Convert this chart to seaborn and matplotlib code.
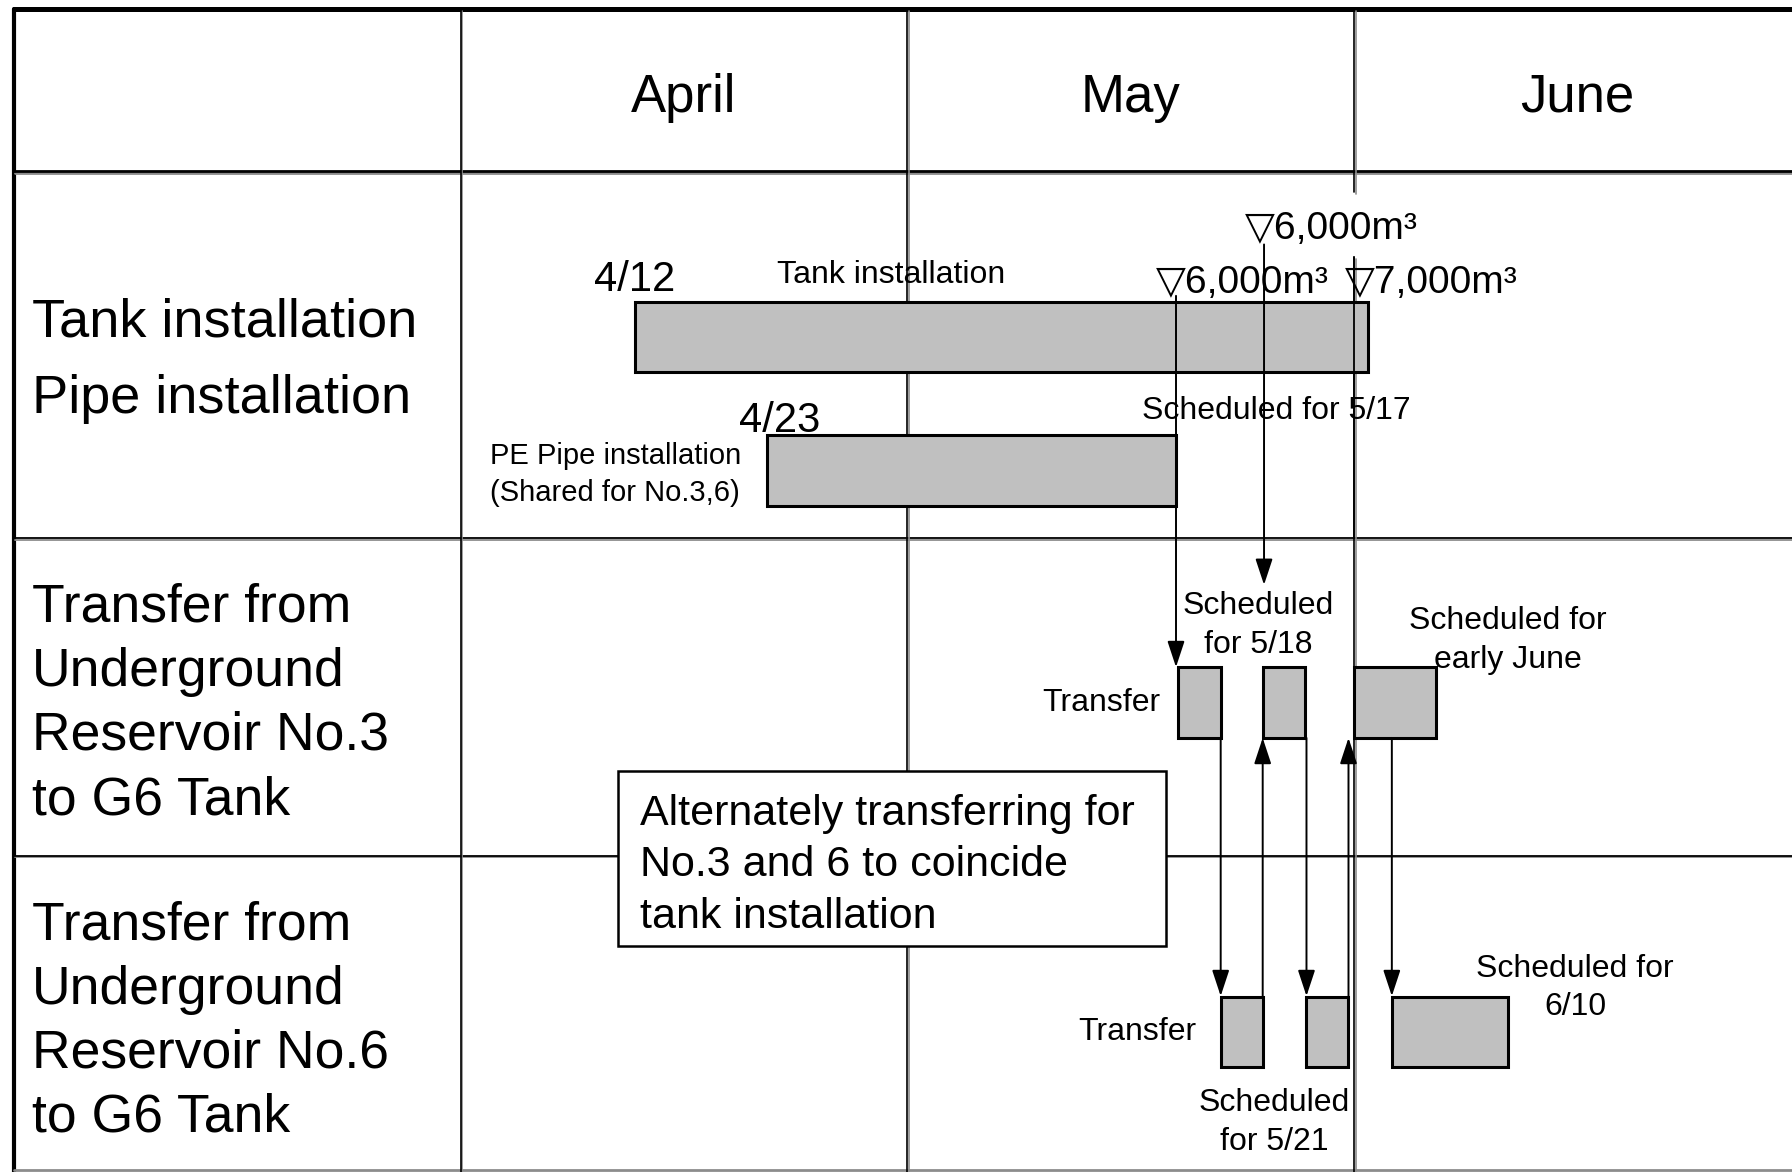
import matplotlib
matplotlib.use("Agg")
import matplotlib.pyplot as plt
import matplotlib.patheffects as pe
import seaborn as sns

############################################################################
# DATA  (x values in months from the start of April: 0 = 4/1, 1 = 5/1, 2 = 6/1)
############################################################################

months = ["April", "May", "June"]

# row 2: installation work
install_tasks = ["Tank installation", "PE Pipe installation"]
install_start = [0.39, 0.685]
install_end = [2.03, 1.60]
install_dates = ["4/12", "4/23"]

# row 3 / row 4: transfer blocks (No.3 and No.6 reservoir -> G6 tank)
no3_start = [1.606, 1.795, 2.0]
no3_end = [1.701, 1.890, 2.182]
no6_start = [1.701, 1.893, 2.084]
no6_end = [1.795, 1.987, 2.343]

# milestones
milestone_labels = ["\u25bd6,000m\u00b3", "\u25bd6,000m\u00b3", "\u25bd7,000m\u00b3"]
milestone_x = [1.601, 1.798, 2.0]

############################################################################

def config_sns():
	sns.set_theme(style="white")
	plt.rcParams["font.family"] = ["Liberation Sans", "DejaVu Sans"]
	plt.rcParams["text.color"] = "black"

# layout (y in screen-like units, 0 = top, 1026 = bottom)
ROW_TOP = 8
ROW_LINES = [150, 471, 749]
ROW_BOTTOM = 1024
Y_TANK, Y_PE = 295, 412
Y_NO3_TOP, Y_NO3_BOT = 584, 646
Y_NO6_TOP, Y_NO6_BOT = 872, 935
BAR_H = 62
TEXT_DY = 3.5  # va="center" sits a little high

shadow = [pe.SimpleLineShadow(offset=(1.2, -1.2), shadow_color="0.55", alpha=1.0), pe.Normal()]

def put(ax, x, y, s, size, ha="left", **kw):
	kw.setdefault("zorder", 6)
	ax.text(x, y + TEXT_DY, s, ha=ha, va="center", fontsize=size, color="black", **kw)

def draw_grid(ax):
	x0 = -1.0
	# outer frame
	ax.plot([x0, 3.2], [ROW_TOP, ROW_TOP], color="black", lw=3.6, zorder=2)
	ax.plot([x0, x0], [ROW_TOP, 1030], color="black", lw=3.0, zorder=2)
	ax.plot([x0, 3.2], [ROW_BOTTOM, ROW_BOTTOM], color="0.55", lw=2.0, zorder=2)
	ax.plot([x0, 3.2], [ROW_LINES[0], ROW_LINES[0]], color="black", lw=2.0, zorder=2, path_effects=shadow)
	ax.plot([x0, 3.2], [ROW_LINES[1], ROW_LINES[1]], color="black", lw=1.3, zorder=2, path_effects=shadow)
	ax.plot([x0, 3.2], [ROW_LINES[2], ROW_LINES[2]], color="black", lw=1.3, zorder=2, path_effects=shadow)
	for m in range(2):
		ax.plot([m, m], [ROW_TOP, 1030], color="black", lw=1.2, zorder=2, path_effects=shadow)
	# June line is interrupted by the upper milestone label
	ax.plot([2, 2], [ROW_TOP, 168], color="black", lw=1.2, zorder=2, path_effects=shadow)
	ax.plot([2, 2], [225, 1030], color="black", lw=1.2, zorder=2, path_effects=shadow)

def draw_header(ax):
	for i, name in enumerate(months):
		put(ax, i + 0.5, 82, name, 38, ha="center")

def draw_row_labels(ax):
	x = -0.959
	put(ax, x, 279, "Tank installation", 39)
	put(ax, x, 346, "Pipe installation", 39)
	for ys, res in [([528, 585, 640, 697], "No.3"), ([807, 863, 919, 975], "No.6")]:
		lines = ["Transfer from", "Underground", "Reservoir " + res, "to G6 Tank"]
		for y, line in zip(ys, lines):
			put(ax, x, y, line, 38.5)

def draw_bars(ax):
	bar_kw = dict(color="#c0c0c0", edgecolor="black", linewidth=2.2, zorder=3)
	ax.barh([Y_TANK, Y_PE], [e - s for s, e in zip(install_start, install_end)],
		left=install_start, height=BAR_H, **bar_kw)
	ax.barh([(Y_NO3_TOP + Y_NO3_BOT) / 2] * 3, [e - s for s, e in zip(no3_start, no3_end)],
		left=no3_start, height=BAR_H, **bar_kw)
	ax.barh([(Y_NO6_TOP + Y_NO6_BOT) / 2] * 3, [e - s for s, e in zip(no6_start, no6_end)],
		left=no6_start, height=BAR_H, **bar_kw)

def arrow(ax, x, y_from, y_to):
	ax.annotate("", xy=(x, y_to), xytext=(x, y_from),
		arrowprops=dict(arrowstyle="-|>,head_length=1.0,head_width=0.33", color="black", lw=1.4,
			mutation_scale=16, shrinkA=0, shrinkB=0), zorder=4)

def draw_arrows(ax):
	# milestones down to the first transfers
	arrow(ax, milestone_x[0], 259, Y_NO3_TOP)
	arrow(ax, milestone_x[1], 214, 512)
	ax.plot([milestone_x[2], milestone_x[2]], [225, ROW_LINES[1]], color="black", lw=1.3, zorder=4)
	# alternating chain between No.3 and No.6
	for i in range(3):
		arrow(ax, no6_start[i], Y_NO3_BOT, Y_NO6_TOP)
	for i in range(2):
		arrow(ax, no6_end[i], Y_NO6_TOP, Y_NO3_BOT)

def draw_notes(ax):
	small = 23
	put(ax, install_start[0], 242, install_dates[0], 30, ha="center")
	put(ax, 0.964, 237, install_tasks[0], small, ha="center")
	put(ax, 0.713, 365, install_dates[1], 30, ha="center")
	put(ax, 0.066, 396, install_tasks[1], 21)
	put(ax, 0.066, 428, "(Shared for No.3,6)", 21)
	put(ax, 1.524, 356, "Scheduled for 5/17", small)

	# milestone labels (triangle centred on its line)
	put(ax, milestone_x[0] - 0.045, 244, milestone_labels[0], 28)
	put(ax, milestone_x[1] - 0.043, 197, milestone_labels[1], 28)
	put(ax, milestone_x[2] - 0.02, 244, milestone_labels[2], 28)

	put(ax, 1.785, 527, "Scheduled", small, ha="center")
	put(ax, 1.785, 561, "for 5/18", small, ha="center")
	put(ax, 2.343, 540, "Scheduled for", small, ha="center")
	put(ax, 2.343, 574, "early June", small, ha="center")
	put(ax, 1.565, 612, "Transfer", small, ha="right")
	put(ax, 1.647, 900, "Transfer", small, ha="right")
	put(ax, 1.821, 962, "Scheduled", small, ha="center")
	put(ax, 1.821, 996, "for 5/21", small, ha="center")
	put(ax, 2.494, 845, "Scheduled for", small, ha="center")
	put(ax, 2.494, 878, "6/10", small, ha="center")

	# explanation box
	box = plt.Rectangle((0.353, 675), 1.578 - 0.353, 828 - 675, fc="white", ec="black", lw=1.8, zorder=5,
		path_effects=[pe.SimplePatchShadow(offset=(1.2, -1.2), shadow_rgbFace="0.55", alpha=1.0), pe.Normal()])
	ax.add_patch(box)
	for y, line in zip([709, 754, 799], ["Alternately transferring for", "No.3 and 6 to coincide", "tank installation"]):
		put(ax, 0.402, y, line, 31)

def main():
	config_sns()
	fig = plt.figure(figsize=(17.92, 11.72), dpi=100)
	ax = fig.add_axes([0, 0, 1, 1])
	ax.set_xlim(-1.0307, 2.9795)
	ax.set_ylim(1026, 0)
	ax.axis("off")

	draw_grid(ax)
	draw_header(ax)
	draw_row_labels(ax)
	draw_bars(ax)
	draw_arrows(ax)
	draw_notes(ax)

	fig.savefig("out.png", dpi=100, facecolor="white")


if __name__ == "__main__":
	main()
